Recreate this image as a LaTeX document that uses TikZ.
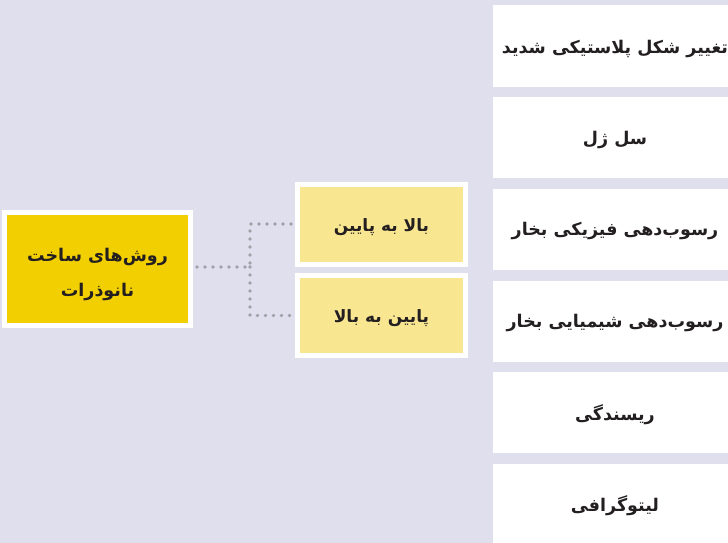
\documentclass[tikz,border=0pt]{standalone}
\usepackage{fontspec}
\newfontfamily\arabicfont[Script=Arabic]{DejaVu Sans}
\TeXXeTstate=1
\definecolor{bgc}{HTML}{E0DFEE}
\definecolor{ylw}{HTML}{F2CF00}
\definecolor{pale}{HTML}{F8E691}
\definecolor{ink}{HTML}{231F20}
\definecolor{dotc}{HTML}{A0A0A6}
\tikzset{
  rootbox/.style={draw=white, line width=5pt, fill=ylw, minimum width=186pt, minimum height=113pt, inner sep=0pt, align=center, text=ink, font=\arabicfont\bfseries\fontsize{17.5}{34}\selectfont},
  midbox/.style={draw=white, line width=5pt, fill=pale, minimum width=168pt, minimum height=80pt, inner sep=0pt, text=ink, font=\arabicfont\bfseries\fontsize{17}{20}\selectfont},
  leafbox/.style={fill=white, minimum width=244pt, minimum height=81pt, inner sep=0pt, text=ink, font=\arabicfont\bfseries\fontsize{17.5}{20}\selectfont},
  dotline/.style={draw=dotc, line width=3.8pt, line cap=round, dash pattern=on 0pt off 8pt}
}
\begin{document}
\begin{tikzpicture}[x=1pt,y=-1pt]
\useasboundingbox (0,0) rectangle (728,543);
\fill[bgc] (0,0) rectangle (728,543);
% right column
\node[leafbox] (r1) at (615,46) {\raisebox{-2.5pt}[\height][\depth]{\beginR تغییر شکل پلاستیکی شدید\endR}};
\node[leafbox] (r2) at (615,137.5) {\raisebox{-2pt}[\height][\depth]{\beginR سل ژل\endR}};
\node[leafbox] (r3) at (615,229) {\raisebox{-2pt}[\height][\depth]{\beginR رسوب^^^^200cدهی فیزیکی بخار\endR}};
\node[leafbox] (r4) at (615,321) {\raisebox{-2pt}[\height][\depth]{\beginR رسوب^^^^200cدهی شیمیایی بخار\endR}};
\node[leafbox] (r5) at (615,412.5) {\raisebox{-2pt}[\height][\depth]{\beginR ریسندگی\endR}};
\node[leafbox] (r6) at (615,504) {\raisebox{-2pt}[\height][\depth]{\beginR لیتوگرافی\endR}};
% root
\node[rootbox] (root) at (97.5,269) {\raisebox{-5pt}[\height][\depth]{\beginR روش^^^^200cهای ساخت\endR}\\\raisebox{-6pt}[\height][\depth]{\beginR نانوذرات\endR}};
% middle
\node[midbox] (m1) at (381.5,224) {\raisebox{-3pt}[\height][\depth]{\beginR بالا به پایین\endR}};
\node[midbox] (m2) at (381.5,315.5) {\raisebox{-3pt}[\height][\depth]{\beginR پایین به بالا\endR}};
% connectors
\coordinate (jn) at (250,267);
\path[dotline] (root.east |- jn) ++(4,0) -- (jn);
\path[dotline] (m1.west) ++(-4,0) -| (jn);
\path[dotline] (jn) |- ([xshift=-4pt]m2.west);
\end{tikzpicture}
\end{document}
